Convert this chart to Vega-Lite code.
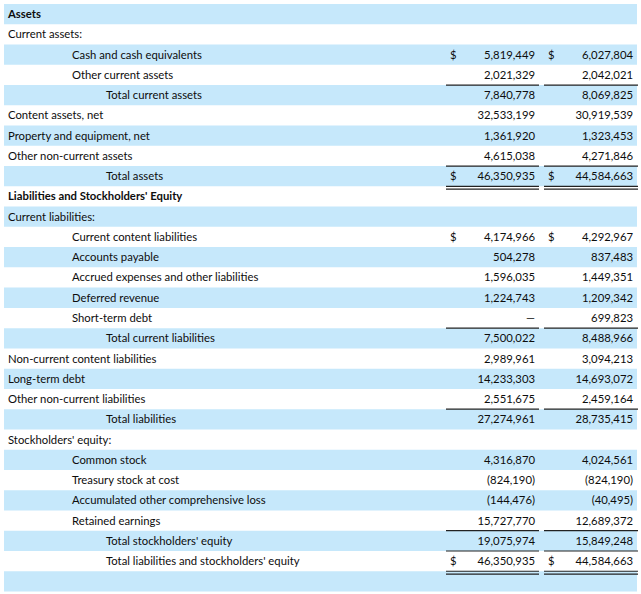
{
  "$schema": "https://vega.github.io/schema/vega-lite/v6.json",
  "width": 641,
  "height": 594,
  "padding": 0,
  "autosize": {"type": "none"},
  "background": "white",
  "config": {"view": {"stroke": null}, "text": {"font": "Lato", "fontSize": 11.3, "color": "#0d0d0d", "baseline": "middle", "dy": 1}},
  "data": {"values": [
    {"order": 0, "label": "Assets", "level": 0, "section": true, "current": null, "prior": null, "dollar": false},
    {"order": 1, "label": "Current assets:", "level": 0, "section": false, "current": null, "prior": null, "dollar": false},
    {"order": 2, "label": "Cash and cash equivalents", "level": 1, "section": false, "current": 5819449, "prior": 6027804, "dollar": true},
    {"order": 3, "label": "Other current assets", "level": 1, "section": false, "current": 2021329, "prior": 2042021, "dollar": false},
    {"order": 4, "label": "Total current assets", "level": 2, "section": false, "current": 7840778, "prior": 8069825, "dollar": false},
    {"order": 5, "label": "Content assets, net", "level": 0, "section": false, "current": 32533199, "prior": 30919539, "dollar": false},
    {"order": 6, "label": "Property and equipment, net", "level": 0, "section": false, "current": 1361920, "prior": 1323453, "dollar": false},
    {"order": 7, "label": "Other non-current assets", "level": 0, "section": false, "current": 4615038, "prior": 4271846, "dollar": false},
    {"order": 8, "label": "Total assets", "level": 2, "section": false, "current": 46350935, "prior": 44584663, "dollar": true},
    {"order": 9, "label": "Liabilities and Stockholders' Equity", "level": 0, "section": true, "current": null, "prior": null, "dollar": false},
    {"order": 10, "label": "Current liabilities:", "level": 0, "section": false, "current": null, "prior": null, "dollar": false},
    {"order": 11, "label": "Current content liabilities", "level": 1, "section": false, "current": 4174966, "prior": 4292967, "dollar": true},
    {"order": 12, "label": "Accounts payable", "level": 1, "section": false, "current": 504278, "prior": 837483, "dollar": false},
    {"order": 13, "label": "Accrued expenses and other liabilities", "level": 1, "section": false, "current": 1596035, "prior": 1449351, "dollar": false},
    {"order": 14, "label": "Deferred revenue", "level": 1, "section": false, "current": 1224743, "prior": 1209342, "dollar": false},
    {"order": 15, "label": "Short-term debt", "level": 1, "section": false, "current": 0, "prior": 699823, "dollar": false},
    {"order": 16, "label": "Total current liabilities", "level": 2, "section": false, "current": 7500022, "prior": 8488966, "dollar": false},
    {"order": 17, "label": "Non-current content liabilities", "level": 0, "section": false, "current": 2989961, "prior": 3094213, "dollar": false},
    {"order": 18, "label": "Long-term debt", "level": 0, "section": false, "current": 14233303, "prior": 14693072, "dollar": false},
    {"order": 19, "label": "Other non-current liabilities", "level": 0, "section": false, "current": 2551675, "prior": 2459164, "dollar": false},
    {"order": 20, "label": "Total liabilities", "level": 2, "section": false, "current": 27274961, "prior": 28735415, "dollar": false},
    {"order": 21, "label": "Stockholders' equity:", "level": 0, "section": false, "current": null, "prior": null, "dollar": false},
    {"order": 22, "label": "Common stock", "level": 1, "section": false, "current": 4316870, "prior": 4024561, "dollar": false},
    {"order": 23, "label": "Treasury stock at cost", "level": 1, "section": false, "current": -824190, "prior": -824190, "dollar": false},
    {"order": 24, "label": "Accumulated other comprehensive loss", "level": 1, "section": false, "current": -144476, "prior": -40495, "dollar": false},
    {"order": 25, "label": "Retained earnings", "level": 1, "section": false, "current": 15727770, "prior": 12689372, "dollar": false},
    {"order": 26, "label": "Total stockholders' equity", "level": 2, "section": false, "current": 19075974, "prior": 15849248, "dollar": false},
    {"order": 27, "label": "Total liabilities and stockholders' equity", "level": 2, "section": false, "current": 46350935, "prior": 44584663, "dollar": true},
    {"order": 28, "label": "", "level": 0, "section": false, "current": null, "prior": null, "dollar": false}
  ]},
  "encoding": {
    "y": {"field": "order", "type": "ordinal", "axis": null, "scale": {"range": [4, 591.5], "paddingInner": 0, "paddingOuter": 0}}
  },
  "layer": [
    {
      "transform": [{"filter": "datum.order % 2 == 0"}],
      "mark": {"type": "rect", "color": "#c6e8fb"},
      "encoding": {
        "x": {"datum": 4, "type": "quantitative", "axis": null, "scale": {"domain": [0, 641], "nice": false, "zero": false}},
        "x2": {"datum": 637}
      }
    },
    {
      "transform": [{"filter": "datum.level == 0 && !datum.section"}],
      "mark": {"type": "text", "align": "left"},
      "encoding": {"x": {"datum": 8, "type": "quantitative"}, "text": {"field": "label"}}
    },
    {
      "transform": [{"filter": "datum.section"}],
      "mark": {"type": "text", "align": "left", "fontWeight": "bold"},
      "encoding": {"x": {"datum": 8, "type": "quantitative"}, "text": {"field": "label"}}
    },
    {
      "transform": [{"filter": "datum.level == 1"}],
      "mark": {"type": "text", "align": "left"},
      "encoding": {"x": {"datum": 72, "type": "quantitative"}, "text": {"field": "label"}}
    },
    {
      "transform": [{"filter": "datum.level == 2"}],
      "mark": {"type": "text", "align": "left"},
      "encoding": {"x": {"datum": 106, "type": "quantitative"}, "text": {"field": "label"}}
    },
    {
      "transform": [
        {"filter": "isValid(datum.current)"},
        {"calculate": "datum.current === 0 ? '—' : (datum.current < 0 ? '(' + format(-datum.current, ',') + ')' : format(datum.current, ','))", "as": "txt"}
      ],
      "mark": {"type": "text", "align": "right"},
      "encoding": {"x": {"datum": 535, "type": "quantitative"}, "text": {"field": "txt"}}
    },
    {
      "transform": [
        {"filter": "isValid(datum.prior)"},
        {"calculate": "datum.prior === 0 ? '—' : (datum.prior < 0 ? '(' + format(-datum.prior, ',') + ')' : format(datum.prior, ','))", "as": "txt"}
      ],
      "mark": {"type": "text", "align": "right"},
      "encoding": {"x": {"datum": 633, "type": "quantitative"}, "text": {"field": "txt"}}
    },
    {
      "transform": [{"filter": "datum.dollar"}],
      "mark": {"type": "text", "align": "left"},
      "encoding": {"x": {"datum": 450, "type": "quantitative"}, "text": {"value": "$"}}
    },
    {
      "transform": [{"filter": "datum.dollar"}],
      "mark": {"type": "text", "align": "left"},
      "encoding": {"x": {"datum": 548, "type": "quantitative"}, "text": {"value": "$"}}
    },
    {
      "transform": [{"filter": "indexof([3, 7, 8, 15, 19, 25, 26, 27], datum.order) >= 0"}],
      "mark": {"type": "rule", "color": "#222222", "strokeWidth": 1.2},
      "encoding": {"x": {"datum": 446, "type": "quantitative"}, "x2": {"datum": 539}, "y": {"field": "order", "type": "ordinal", "bandPosition": 1}}
    },
    {
      "transform": [{"filter": "indexof([3, 7, 8, 15, 19, 25, 26, 27], datum.order) >= 0"}],
      "mark": {"type": "rule", "color": "#222222", "strokeWidth": 1.2},
      "encoding": {"x": {"datum": 544, "type": "quantitative"}, "x2": {"datum": 638}, "y": {"field": "order", "type": "ordinal", "bandPosition": 1}}
    },
    {
      "transform": [{"filter": "indexof([8, 27], datum.order) >= 0"}],
      "mark": {"type": "rule", "color": "#222222", "strokeWidth": 1.2},
      "encoding": {"x": {"datum": 446, "type": "quantitative"}, "x2": {"datum": 539}, "y": {"field": "order", "type": "ordinal", "bandPosition": 1.14}}
    },
    {
      "transform": [{"filter": "indexof([8, 27], datum.order) >= 0"}],
      "mark": {"type": "rule", "color": "#222222", "strokeWidth": 1.2},
      "encoding": {"x": {"datum": 544, "type": "quantitative"}, "x2": {"datum": 638}, "y": {"field": "order", "type": "ordinal", "bandPosition": 1.14}}
    }
  ]
}
